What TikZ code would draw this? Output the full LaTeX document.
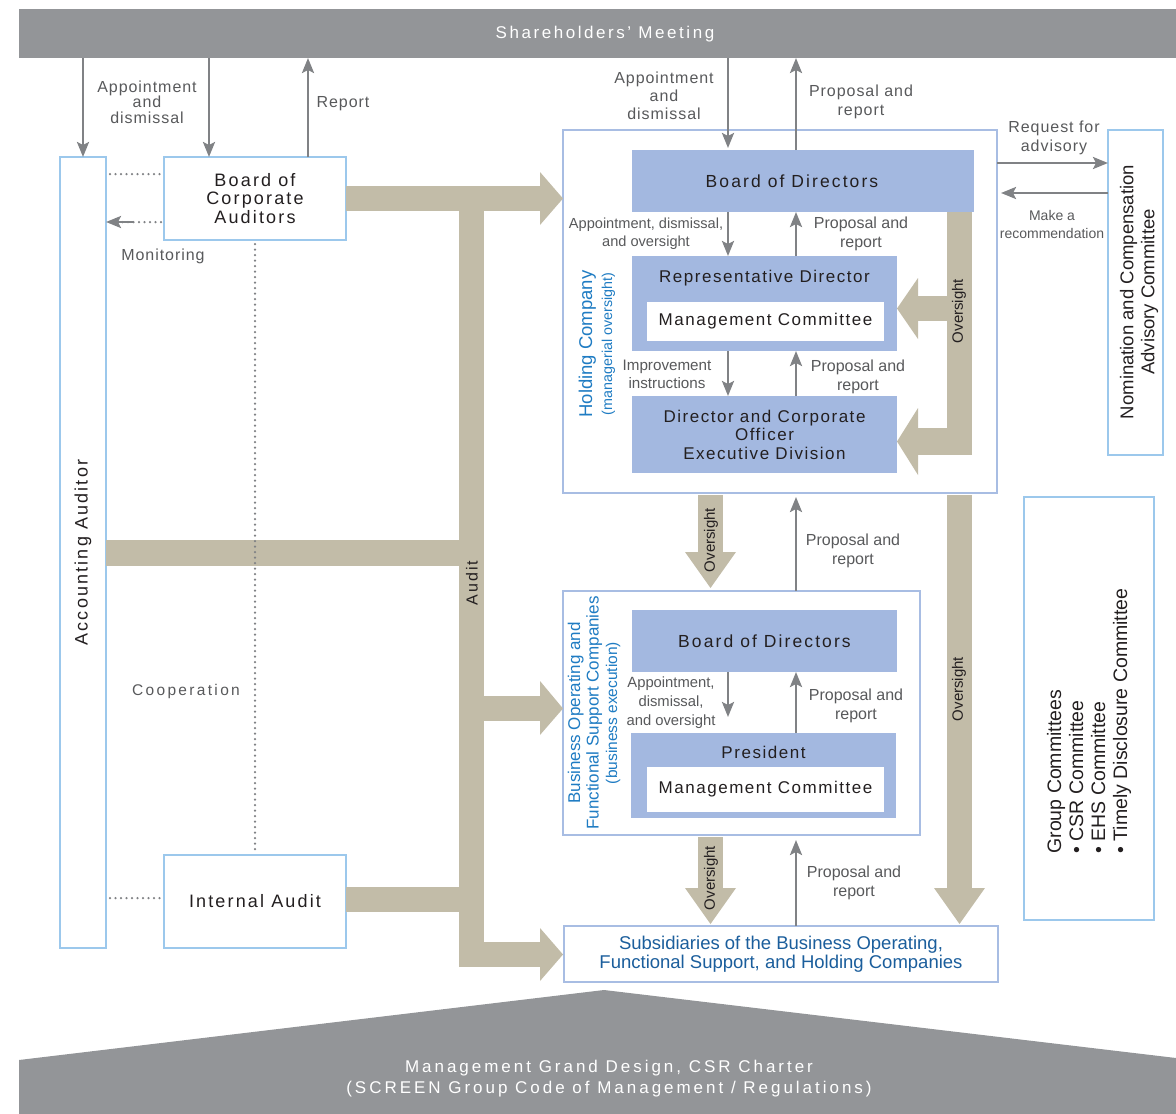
\documentclass[tikz,border=0pt]{standalone}
\usepackage{fontspec}
\setmainfont{Liberation Sans}
\newfontfamily\fA[LetterSpace=15]{Liberation Sans}
\newfontfamily\fE[LetterSpace=17.5]{Liberation Sans}
\newfontfamily\fB[LetterSpace=12]{Liberation Sans}
\newfontfamily\fC[LetterSpace=9]{Liberation Sans}
\newfontfamily\fD[LetterSpace=6]{Liberation Sans}
\usetikzlibrary{arrows.meta,calc}
\definecolor{smgrey}{HTML}{939598}
\definecolor{tanc}{HTML}{C2BCA8}
\definecolor{ablue}{HTML}{9CC8EC}
\definecolor{hblue}{HTML}{A8BDE3}
\definecolor{fblue}{HTML}{A3B8E0}
\definecolor{txt}{HTML}{231F20}
\definecolor{lab}{HTML}{58595B}
\definecolor{arr}{HTML}{808285}
\definecolor{bluet}{HTML}{1F7CC3}
\definecolor{subt}{HTML}{1B5E9C}
\newcommand\fsz[2]{\fontsize{#1}{#2}\selectfont}
\tikzset{
 frame/.style={draw=ablue, line width=2.2pt, fill=white, inner sep=0pt, outer sep=0pt, anchor=north west},
 hframe/.style={draw=hblue, line width=2.2pt, fill=white, inner sep=0pt, outer sep=0pt, anchor=north west},
 fillbox/.style={fill=fblue, inner sep=0pt, outer sep=0pt, anchor=north west},
 wbox/.style={fill=white, inner sep=0pt, outer sep=0pt, anchor=north west},
 boxtext/.style={text=txt, font=\fC\fsz{17}{18.5}, inner sep=0pt, align=center},
 glab/.style={text=lab, inner sep=0pt, align=center},
 garr/.style={draw=arr, line width=2.5pt, -{Stealth[length=15pt,width=12pt,inset=3pt]}},
 dots/.style={draw=arr, line width=2.5pt, line cap=round, dash pattern=on 0pt off 5.5pt},
 ovt/.style={text=txt, font=\fsz{15}{15}, rotate=90, inner sep=0pt},
}
\begin{document}
\begin{tikzpicture}[x=1pt,y=-1pt]
\useasboundingbox (0,0) rectangle (1176,1114);

% Shareholders' Meeting bar
\node[fill=smgrey, inner sep=0pt, outer sep=0pt, minimum width=1157, minimum height=49, anchor=north west] (sm) at (19,9) {};
\node[text=white, font=\fA\fsz{17}{17}, inner sep=0pt] (smt) at (605,34) {Shareholders’ Meeting};

% Bottom pentagon
\fill[smgrey] (19,1060) -- (604,990) -- (1176,1058) -- (1176,1114) -- (19,1114) -- cycle;
\node[text=white, font=\fE\fsz{17}{21}, align=center, inner sep=0pt] (base) at (609,1079) {Management Grand Design, CSR Charter\\(SCREEN Group Code of Management / Regulations)};

% Left boxes
\node[frame, minimum width=46, minimum height=791] (acc) at (60,157) {};
\node[rotate=90, text=txt, font=\fB\fsz{18}{18}, inner sep=0pt] (acct) at (acc.center) {Accounting Auditor};
\node[frame, minimum width=182, minimum height=83, text=txt, font=\fB\fsz{18}{18.5}, align=center] (bca) at (164,157) {Board of\\Corporate\\Auditors};
\node[frame, minimum width=182, minimum height=93, text=txt, font=\fB\fsz{18}{18}, align=center] (ia) at (164,855) {Internal Audit};

% Right boxes
\node[frame, minimum width=55, minimum height=325] (nom) at (1108,130) {};
\node[rotate=90, text=txt, font=\fsz{18.5}{21}, align=center, inner sep=0pt] (nomt) at (1139,292) {Nomination and Compensation\\Advisory Committee};
\node[frame, minimum width=130, minimum height=423] (grp) at (1024,497) {};
\node[rotate=90, text=txt, font=\fsz{19.5}{22}, align=left, inner sep=0pt] (grpt) at (1089,721) {Group Committees\\• CSR Committee\\• EHS Committee\\• Timely Disclosure Committee};

% Holding and business operating frames
\node[hframe, minimum width=434, minimum height=363] (hold) at (563,130) {};
\node[hframe, minimum width=357, minimum height=244] (bo) at (563,591) {};
\node[hframe, minimum width=434, minimum height=56, text=subt, font=\fsz{18.5}{18.5}, align=center] (sub) at (564,926) {Subsidiaries of the Business Operating,\\Functional Support, and Holding Companies};

% Tan audit shapes
\fill[tanc] (346,186) rectangle (540,211);
\fill[tanc] (540,172) -- (563,198.5) -- (540,225) -- cycle;
\fill[tanc] (459,186) rectangle (484,967);
\fill[tanc] (106,540) rectangle (459,566);
\fill[tanc] (484,696) rectangle (540,721);
\fill[tanc] (540,681) -- (563,708.5) -- (540,735) -- cycle;
\fill[tanc] (346,887) rectangle (459,912);
\fill[tanc] (484,942) rectangle (540,967);
\fill[tanc] (540,928) -- (563,954.5) -- (540,981) -- cycle;
\node[ovt, font=\fB\fsz{16}{16}] (audt) at (472,583) {Audit};

% Tan oversight shapes
\fill[tanc] (947,212) rectangle (972,455);
\fill[tanc] (917,296) rectangle (948,321);
\fill[tanc] (918,278) -- (897,308.5) -- (918,339) -- cycle;
\fill[tanc] (917,428) rectangle (972,455);
\fill[tanc] (918,408) -- (897,441.5) -- (918,475) -- cycle;
\node[ovt] (ov1) at (959,311) {Oversight};
\fill[tanc] (698,494.5) rectangle (723,553);
\fill[tanc] (685,552) -- (710.5,588) -- (736,552) -- cycle;
\node[ovt] (ov2) at (711,540) {Oversight};
\fill[tanc] (698,836.5) rectangle (723,889);
\fill[tanc] (685,888) -- (710.5,924) -- (736,888) -- cycle;
\node[ovt] (ov3) at (711,878) {Oversight};
\fill[tanc] (947,494.5) rectangle (972,889);
\fill[tanc] (934,888) -- (959.5,924) -- (985,888) -- cycle;
\node[ovt] (ov4) at (959,689) {Oversight};

% Holding company inner boxes
\node[fillbox, minimum width=342, minimum height=62] (hbod) at (632,150) {};
\node[text=txt, font=\fB\fsz{17.5}{18}, inner sep=0pt] (hbodt) at (792,181) {Board of Directors};
\node[fillbox, minimum width=265, minimum height=95] (rd) at (632,256) {};
\node[boxtext] (rdt) at ($(rd.north)+(0,22)$) {Representative Director};
\node[wbox, minimum width=237, minimum height=39, text=txt, font=\fC\fsz{17}{18}] (mc1) at (647,302) {Management Committee};
\node[fillbox, minimum width=265, minimum height=77, boxtext] (dco) at (632,396) {Director and Corporate\\Officer\\Executive Division};
\node[rotate=90, text=bluet, align=center, inner sep=0pt, font=\fsz{18.5}{20}] (holdt) at (597,344) {Holding Company\\\fsz{14.3}{20}(managerial oversight)};

% Business operating inner boxes
\node[fillbox, minimum width=265, minimum height=62, text=txt, font=\fB\fsz{17.5}{18}] (bbod) at (632,610) {Board of Directors};
\node[fillbox, minimum width=265, minimum height=85] (pres) at (631,733) {};
\node[boxtext] (prest) at ($(pres.north)+(0,19)$) {President};
\node[wbox, minimum width=237, minimum height=45, text=txt, font=\fC\fsz{17}{18}] (mc2) at (647,767) {Management Committee};
\node[rotate=90, text=bluet, align=center, inner sep=0pt, font=\fsz{17}{18.5}] (bot) at (594,713) {Business Operating and\\Functional Support Companies\\\fsz{15.5}{18.5}(business execution)};

% Column coordinates
\coordinate (xA) at (209,0);
\coordinate (xR) at (308,0);
\coordinate (xL) at (728,0);
\coordinate (xU) at (796,0);
\coordinate (yR1) at (0,163);
\coordinate (yR2) at (0,193);
\coordinate (yD1) at (0,174);
\coordinate (yD2) at (0,222);
\coordinate (yD3) at (0,898);

% Thin arrows
\draw[garr] (sm.south -| acc.north) -- (acc.north);
\draw[garr] (sm.south -| xA) -- (bca.north -| xA);
\draw[garr] (bca.north -| xR) -- (sm.south -| xR);
\draw[garr, shorten >=2pt] (sm.south -| xL) -- (hbod.north -| xL);
\draw[garr] (hbod.north -| xU) -- (sm.south -| xU);
\draw[garr] (hbod.south -| xL) -- (rd.north -| xL);
\draw[garr] (rd.north -| xU) -- (hbod.south -| xU);
\draw[garr] (rd.south -| xL) -- (dco.north -| xL);
\draw[garr] (dco.north -| xU) -- (rd.south -| xU);
\draw[garr, shorten >=4pt] (bo.north -| xU) -- (hold.south -| xU);
\draw[garr, shorten >=16pt] (bbod.south -| xL) -- (pres.north -| xL);
\draw[garr] (pres.north -| xU) -- (bbod.south -| xU);
\draw[garr, shorten >=5pt] (sub.north -| xU) -- (bo.south -| xU);
\draw[garr] (hold.east |- yR1) -- (nom.west |- yR1);
\draw[garr, shorten >=4pt] (nom.west |- yR2) -- (hold.east |- yR2);

% Dotted lines
\draw[dots, shorten <=4pt, shorten >=3pt] (acc.east |- yD1) -- (bca.west |- yD1);
\draw[dots, shorten <=3pt, shorten >=12pt] (bca.west |- yD2) -- (acc.east |- yD2);
\draw[garr, shorten <=-14pt] ($(acc.east |- yD2)+(14,0)$) -- (acc.east |- yD2);
\draw[dots, shorten <=4pt, shorten >=3pt] (bca.south) -- (ia.north);
\draw[dots, shorten <=4pt, shorten >=3pt] (acc.east |- yD3) -- (ia.west |- yD3);

% Labels
\node[glab, font=\fD\fsz{16}{15.5}] (l1) at (147,102) {Appointment\\and\\dismissal};
\node[glab, font=\fD\fsz{16}{16}] (l2) at (343,104) {Report};
\node[glab, font=\fD\fsz{16}{16}] (l3) at (163,256) {Monitoring};
\node[glab, font=\fA\fsz{15.5}{16}] (l4) at (186,691) {Cooperation};
\node[glab, font=\fD\fsz{16}{18}] (l5) at (664,96) {Appointment\\and\\dismissal};
\node[glab, font=\fD\fsz{16}{19}] (l6) at (861,102) {Proposal and\\report};
\node[glab, font=\fD\fsz{16}{19}] (l7) at (1054,138) {Request for\\advisory};
\node[glab, font=\fsz{14}{18}] (l8) at (1052,224) {Make a\\recommendation};
\node[glab, font=\fsz{14.6}{18}] (l9) at (646,234) {Appointment, dismissal,\\and oversight};
\node[glab, font=\fsz{16}{18.5}] (l10) at (861,234) {Proposal and\\report};
\node[glab, font=\fsz{15.2}{18}] (l11) at (667,374) {Improvement\\instructions};
\node[glab, font=\fsz{16}{19}] (l12) at (858,377) {Proposal and\\report};
\node[glab, font=\fsz{16}{19}] (l13) at (853,551) {Proposal and\\report};
\node[glab, font=\fsz{14.8}{19}] (l14) at (671,703) {Appointment,\\dismissal,\\and oversight};
\node[glab, font=\fsz{16}{19}] (l15) at (856,706) {Proposal and\\report};
\node[glab, font=\fsz{16}{19}] (l16) at (854,883) {Proposal and\\report};
\end{tikzpicture}
\end{document}
